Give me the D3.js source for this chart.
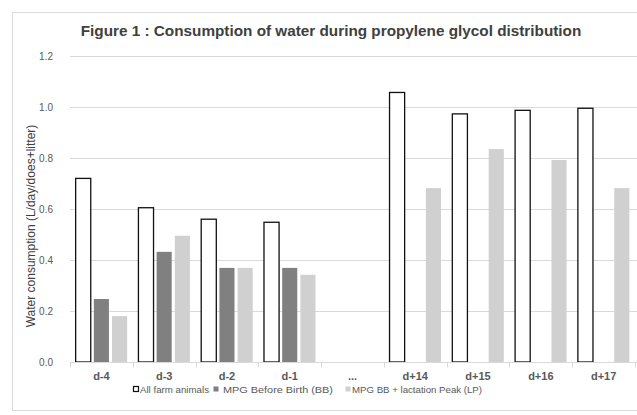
<!DOCTYPE html>
<html>
<head>
<meta charset="utf-8">
<script src="https://cdn.jsdelivr.net/npm/d3@7"></script>
<style>
  body { margin: 0; background: #fff; }
  svg { display: block; font-family: "Liberation Sans", Arial, sans-serif; }
</style>
</head>
<body>
<div id="chart"></div>
<script>
// data
var days = ["d-4", "d-3", "d-2", "d-1", "...", "d+14", "d+15", "d+16", "d+17"];
var seriesNames = ["All farm animals", "MPG Before Birth (BB)", "MPG BB + lactation Peak (LP)"];
var allFarm = [0.72, 0.605, 0.56, 0.548, null, 1.057, 0.973, 0.987, 0.995];
var mpgBB   = [0.247, 0.432, 0.369, 0.369, null, null, null, null, null];
var mpgLP   = [0.18, 0.495, 0.369, 0.342, null, 0.682, 0.835, 0.792, 0.682];
var yTicks  = [0, 0.2, 0.4, 0.6, 0.8, 1.0, 1.2];

var width = 637, height = 415;
var margin = {left: 70, right: 2, top: 56, bottom: 53};

var svg = d3.select("#chart").append("svg")
    .attr("width", width)
    .attr("height", height);

// outer chart frame
svg.append("rect")
    .attr("x", 12.5).attr("y", 12.5)
    .attr("width", 660).attr("height", 398)
    .attr("fill", "none")
    .attr("stroke", "#d9d9d9");

svg.append("text")
    .attr("x", 331).attr("y", 36)
    .attr("text-anchor", "middle")
    .attr("font-size", 15.3)
    .attr("font-weight", "bold")
    .attr("fill", "#404040")
    .text("Figure 1 : Consumption of water during propylene glycol distribution");

var y = d3.scaleLinear()
    .domain([0, 1.2])
    .range([height - margin.bottom, margin.top]);

var x0 = d3.scaleBand()
    .domain(days)
    .range([margin.left, width - margin.right])
    .paddingInner(0.18)
    .paddingOuter(0.09);

var x1 = d3.scaleBand()
    .domain(d3.range(3))
    .range([0, x0.bandwidth()])
    .paddingInner(0.17);

// gridlines
svg.append("g").selectAll("line")
  .data(yTicks.slice(1))
  .enter().append("line")
    .attr("x1", margin.left).attr("x2", width)
    .attr("y1", function(d) { return Math.round(y(d)) + 0.5; })
    .attr("y2", function(d) { return Math.round(y(d)) + 0.5; })
    .attr("stroke", "#d9d9d9");

// y labels
svg.append("g").selectAll("text")
  .data(yTicks)
  .enter().append("text")
    .attr("x", 53)
    .attr("y", function(d) { return y(d) + 3.5; })
    .attr("text-anchor", "end")
    .attr("font-size", 10)
    .attr("fill", "#595959")
    .text(function(d) { return d3.format(".1f")(d); });

var series = [allFarm, mpgBB, mpgLP];
var fills = ["#ffffff", "#808080", "#d0d0d0"];

var rows = [];
days.forEach(function(day, i) {
  series.forEach(function(s, k) {
    if (s[i] != null) rows.push({day: day, k: k, v: s[i]});
  });
});

svg.append("g").selectAll("rect")
  .data(rows)
  .enter().append("rect")
    .attr("x", function(d) { return x0(d.day) + x1(d.k); })
    .attr("y", function(d) { return y(d.v); })
    .attr("width", x1.bandwidth())
    .attr("height", function(d) { return y(0) - y(d.v); })
    .attr("fill", function(d) { return fills[d.k]; })
    .attr("stroke", function(d) { return d.k == 0 ? "#111" : "none"; })
    .attr("stroke-width", 1.3);

// baseline + category ticks
var base = Math.round(y(0)) + 0.5;
svg.append("line")
    .attr("x1", margin.left).attr("x2", width)
    .attr("y1", base).attr("y2", base)
    .attr("stroke", "#d9d9d9");

var tickX = function(i) {
  return Math.round(margin.left + i * (width - margin.right - margin.left) / days.length) + 0.5;
};
svg.append("g").selectAll("line")
  .data(d3.range(days.length + 1))
  .enter().append("line")
    .attr("x1", tickX)
    .attr("x2", tickX)
    .attr("y1", base).attr("y2", base + 5)
    .attr("stroke", "#d9d9d9");

svg.append("g").selectAll("text")
  .data(days)
  .enter().append("text")
    .attr("x", function(d) { return x0(d) + x0.bandwidth() / 2; })
    .attr("y", 380)
    .attr("text-anchor", "middle")
    .attr("font-size", 11)
    .attr("font-weight", "bold")
    .attr("fill", "#595959")
    .text(function(d) { return d; });

// y axis title
svg.append("text")
    .attr("transform", "translate(35,226) rotate(-90)")
    .attr("text-anchor", "middle")
    .attr("font-size", 12)
    .attr("fill", "#404040")
    .text("Water consumption (L/day/does+litter)");

// legend
var legendX = [133, 213, 345];
var legendTextX = [7, 10, 7];
var legendLen = [69, 110, 130];
var lg = svg.append("g").selectAll("g")
  .data(seriesNames)
  .enter().append("g")
    .attr("transform", function(d, i) { return "translate(" + legendX[i] + ",393)"; });

lg.append("rect")
    .attr("x", 0.5).attr("y", -6.5)
    .attr("width", 5).attr("height", 5)
    .attr("fill", function(d, i) { return fills[i]; })
    .attr("stroke", function(d, i) { return i == 0 ? "#111" : "none"; })
    .attr("stroke-width", 1.2);

lg.append("text")
    .attr("x", function(d, i) { return legendTextX[i]; })
    .attr("y", 0)
    .attr("font-size", 9.5)
    .attr("fill", "#595959")
    .attr("textLength", function(d, i) { return legendLen[i]; })
    .attr("lengthAdjust", "spacingAndGlyphs")
    .text(function(d) { return d; });
</script>
</body>
</html>
